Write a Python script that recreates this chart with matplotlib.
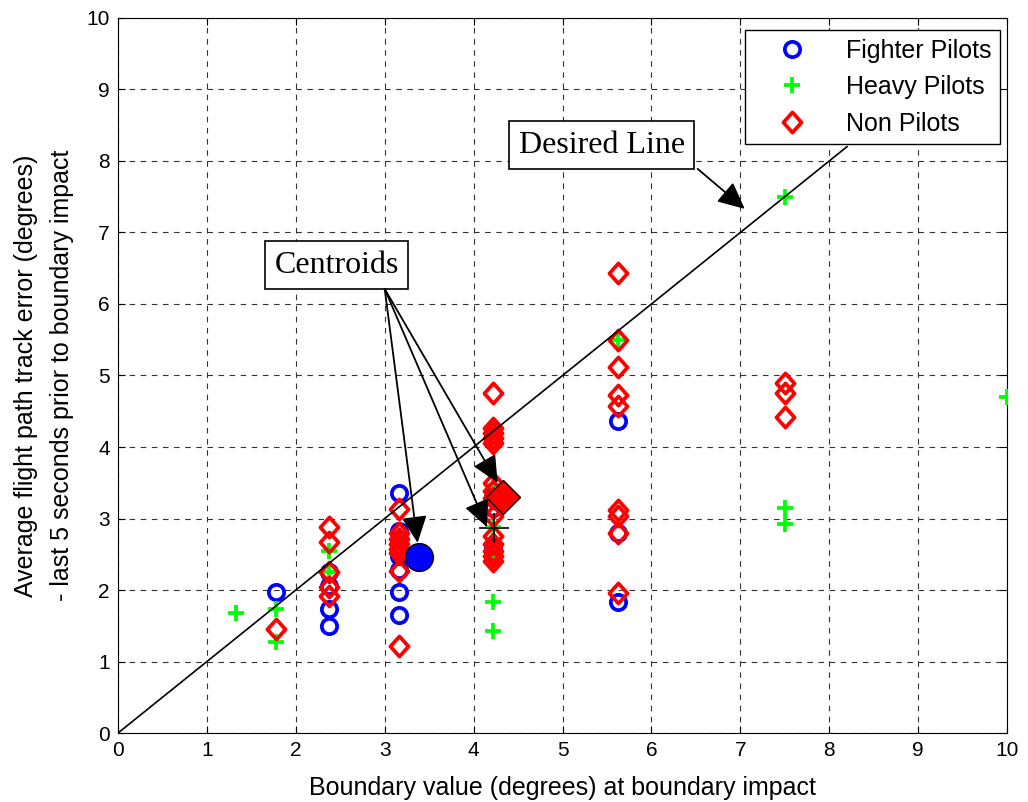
import numpy as np
import matplotlib.pyplot as plt
from matplotlib.path import Path

# boundary values (degrees) used in the runs
fighter_x = [1.78,
             2.37, 2.37, 2.37, 2.37,
             3.16, 3.16, 3.16, 3.16, 3.16, 3.16, 3.16, 3.16,
             4.22, 4.22, 4.22, 4.22,
             5.62, 5.62, 5.62]
fighter_y = [1.97,
             2.25, 2.05, 1.73, 1.50,
             3.35, 2.82, 2.72, 2.60, 2.48, 2.28, 1.97, 1.65,
             3.30, 3.15, 2.62, 2.50,
             4.37, 2.80, 1.83]

heavy_x = [1.33, 1.78, 1.78, 2.37, 2.37,
           4.22, 4.22, 4.22, 4.22, 4.22,
           5.62, 7.5, 7.5, 7.5, 10.0]
heavy_y = [1.68, 1.73, 1.27, 2.55, 2.25,
           3.47, 2.88, 2.46, 1.83, 1.43,
           5.50, 7.50, 3.15, 2.92, 4.70]

non_x = [1.78,
         2.37, 2.37, 2.37, 2.37, 2.37,
         3.16, 3.16, 3.16, 3.16, 3.16, 3.16, 3.16, 3.16,
         4.22, 4.22, 4.22, 4.22, 4.22, 4.22, 4.22, 4.22, 4.22, 4.22,
         4.22, 4.22, 4.22, 4.22, 4.22,
         5.62, 5.62, 5.62, 5.62, 5.62, 5.62, 5.62, 5.62, 5.62,
         7.5, 7.5, 7.5]
non_y = [1.45,
         2.88, 2.67, 2.25, 2.04, 1.92,
         3.13, 2.80, 2.72, 2.65, 2.58, 2.52, 2.27, 1.22,
         4.75, 4.27, 4.20, 4.12, 4.05, 3.50, 3.38, 3.28, 3.15, 3.03,
         2.75, 2.65, 2.55, 2.47, 2.40,
         6.43, 5.50, 5.12, 4.73, 4.58, 3.12, 3.03, 2.80, 1.96,
         4.90, 4.75, 4.42]

# group centroids
cent_fighter = (3.39, 2.46)
cent_heavy = (4.23, 2.87)
cent_non = (4.33, 3.30)

desired_x = [0, 8.2]
desired_y = [0, 8.2]

sans = 'Liberation Sans'
serif = 'Liberation Serif'

# slightly tall diamond like the MATLAB one
diamond = Path([(0, 1), (0.9, 0), (0, -1), (-0.9, 0), (0, 1)],
               [Path.MOVETO, Path.LINETO, Path.LINETO, Path.LINETO,
                Path.CLOSEPOLY])

fig = plt.figure(figsize=(10.28, 8.02), dpi=100)
ax = fig.add_axes([0.1148, 0.086, 0.8648, 0.8916])

ax.plot(fighter_x, fighter_y, 'o', ls='none', mfc='none', mec=(0, 0, 1),
        mew=2.7, ms=11, label='Fighter Pilots', zorder=3)
ax.plot(heavy_x, heavy_y, '+', ls='none', mec=(0, 1, 0), mew=2.7, ms=11,
        label='Heavy Pilots', zorder=3)
ax.plot(non_x, non_y, marker=diamond, ls='none', mfc='none', mec=(1, 0, 0),
        mew=2.7, ms=14.5, label='Non Pilots', zorder=3)

ax.plot(desired_x, desired_y, color='k', lw=1.2, zorder=4)

ax.plot(*cent_fighter, 'o', mfc=(0, 0, 1), mec='k', mew=1.0, ms=20, zorder=5)
ax.plot(*cent_heavy, '+', mec='k', mew=1.2, ms=22, zorder=5)
ax.plot(*cent_non, 'D', mfc=(1, 0, 0), mec='k', mew=1.0, ms=17, zorder=5)

ax.set_xlim(0, 10)
ax.set_ylim(0, 10)
ax.set_xticks(np.arange(0, 11, 1))
ax.set_yticks(np.arange(0, 11, 1))
ax.grid(True, color='0.2', ls=(0, (5, 5)), lw=0.8)
ax.set_axisbelow(True)
ax.tick_params(direction='in', top=True, right=True, length=5,
               labelsize=15, pad=6)
for lbl in ax.get_xticklabels() + ax.get_yticklabels():
    lbl.set_fontfamily(sans)

ax.set_xlabel('Boundary value (degrees) at boundary impact',
              fontsize=18, family=sans, labelpad=11)
ax.set_ylabel('Average flight path track error (degrees)\n'
              '- last 5 seconds prior to boundary impact',
              fontsize=18, family=sans, labelpad=9, linespacing=1.6)

leg = ax.legend(loc='upper right', bbox_to_anchor=(0.9924, 0.9832),
                borderaxespad=0,
                prop={'family': sans, 'size': 18}, fancybox=False,
                framealpha=1, edgecolor='k', borderpad=0.35,
                handletextpad=0.6, labelspacing=0.5, handlelength=3.1)
leg.get_frame().set_linewidth(1.0)

box = dict(boxstyle='square,pad=0.3', fc='white', ec='k', lw=1.2)
ax.text(5.44, 8.22, 'Desired Line', family=serif, fontsize=23,
        ha='center', va='center', bbox=box, zorder=6)
ax.text(2.46, 6.54, 'Centroids', family=serif, fontsize=23,
        ha='center', va='center', bbox=box, zorder=6)

arrow = dict(arrowstyle='-|>,head_length=0.55,head_width=0.26', color='k',
             lw=1.3, mutation_scale=30, shrinkA=0, shrinkB=0)
ax.annotate('', xy=(7.05, 7.33), xytext=(6.52, 7.89), arrowprops=arrow,
            zorder=6)
start = (3.0, 6.21)
for tip in [(3.37, 2.66), (4.15, 2.88), (4.27, 3.50)]:
    ax.annotate('', xy=tip, xytext=start, arrowprops=arrow, zorder=6)

fig.savefig('out.png', dpi=100)
